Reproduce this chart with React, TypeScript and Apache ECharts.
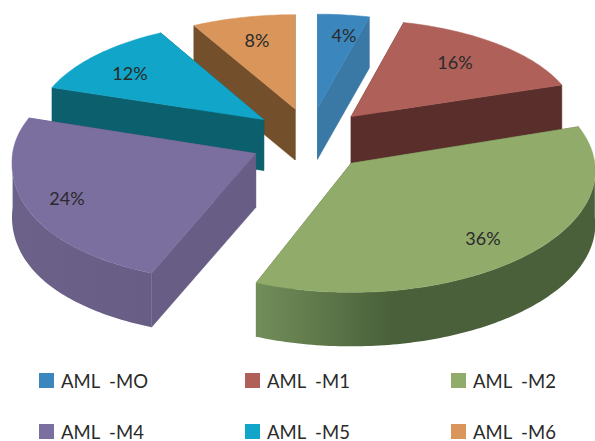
import React, { useEffect, useRef } from "react";
import * as echarts from "echarts";

const categories = ["AML  -MO", "AML  -M1", "AML  -M2", "AML  -M4", "AML  -M5", "AML  -M6"];
const percentages = [4, 16, 36, 24, 12, 8];
const topColors = ["#3b87bd", "#af6159", "#90ab6a", "#7b6fa0", "#10a5c9", "#d9955a"];
const edgeColors = ["#3a79a6", "#5a2e2b", "#5a7343", "#675d85", "#0c5f6c", "#744f2b"];
const arcColorsFrom = ["#3a79a6", "#5a2e2b", "#728e59", "#6b6189", "#0c5f6c", "#744f2b"];
const arcColorsTo = ["#3a79a6", "#5a2e2b", "#49603a", "#675d85", "#0c5f6c", "#744f2b"];
const labelPlaces: [number, number][] = [[344, 35], [455, 62], [483, 238], [67, 198], [130, 73], [257, 40]];
const legendPlaces: [number, number][] = [[39, 371], [245, 371], [451, 371], [39, 422], [245, 422], [451, 422]];

// draw back to front
const paintOrder = [0, 5, 1, 4, 3, 2];

const FONT = "Lato, 'Open Sans', sans-serif";
const RAD = Math.PI / 180;
const total = percentages.reduce((a, b) => a + b, 0);

function geometry(i: number) {
  const before = percentages.slice(0, i).reduce((a, b) => a + b, 0);
  const start = (before / total) * 360;
  const end = ((before + percentages[i]) / total) * 360;
  const mid = ((start + end) / 2) * RAD;
  const apex: [number, number] = [310 + 60 * Math.sin(mid), 140 - 32 * Math.cos(mid)];
  const at = (deg: number): [number, number] => {
    const t = deg * RAD;
    const c = Math.cos(t);
    // the front-left slice is stretched a little more by the reference's perspective
    const stretchX = i === 3 ? 3 + (c < 0 ? 30 * c * c : 0) : 0;
    const stretchY = i === 3 && c < 0 ? 4 * c * c : 0;
    const rx = 235 - 15 * c - 12 * Math.cos(mid) + stretchX;
    const ry = 113 - 8 * c - 11 * Math.cos(mid) + stretchY;
    return [apex[0] + rx * Math.sin(t), apex[1] - ry * c];
  };
  return { start, end, apex, at };
}

function renderSlice(i: number) {
  const { start, end, apex, at } = geometry(i);
  const depth = i === 2 || i === 3 ? 54 : 51;
  const down = (p: [number, number]): [number, number] => [p[0], p[1] + depth];
  const rim: [number, number][] = [];
  const n = Math.max(8, Math.ceil(end - start));
  for (let k = 0; k <= n; k++) rim.push(at(start + ((end - start) * k) / n));

  const children: any[] = [];
  const first = rim[0];
  const last = rim[rim.length - 1];
  for (const corner of [first, last]) {
    children.push({
      type: "polygon",
      shape: { points: [apex, corner, down(corner), down(apex)] },
      style: { fill: edgeColors[i], stroke: edgeColors[i], lineWidth: 0.5 },
      silent: true,
    });
  }
  const a0 = Math.max(start, 90);
  const a1 = Math.min(end, 270);
  if (a1 > a0) {
    const band: [number, number][] = [];
    const m = Math.ceil(a1 - a0);
    for (let k = 0; k <= m; k++) band.push(at(a0 + ((a1 - a0) * k) / m));
    const points = band.concat(band.slice().reverse().map(down));
    const flip = i === 2;
    children.push({
      type: "polygon",
      shape: { points },
      style: {
        fill: {
          type: "linear",
          x: flip ? 1 : 0,
          y: 0,
          x2: flip ? 0 : 1,
          y2: 0,
          colorStops: flip
            ? [
                { offset: 0, color: arcColorsTo[i] },
                { offset: 0.6, color: arcColorsTo[i] },
                { offset: 1, color: arcColorsFrom[i] },
              ]
            : [
                { offset: 0, color: arcColorsFrom[i] },
                { offset: 1, color: arcColorsTo[i] },
              ],
        },
      },
      silent: true,
    });
  }
  children.push({
    type: "polygon",
    shape: { points: [apex as [number, number]].concat(rim) },
    style: { fill: topColors[i], stroke: topColors[i], lineWidth: 0.5 },
    silent: true,
  });
  children.push({
    type: "text",
    x: labelPlaces[i][0],
    y: labelPlaces[i][1],
    style: {
      text: `${percentages[i]}%`,
      font: `18px ${FONT}`,
      fill: "#2a2a2a",
      align: "center",
      verticalAlign: "middle",
    },
    silent: true,
  });
  return { type: "group", children };
}

export default function App() {
  const ref = useRef<HTMLDivElement | null>(null);
  useEffect(() => {
    if (!ref.current) return;
    const chart = echarts.init(ref.current, undefined, { renderer: "svg" });
    chart.setOption({
      animation: false,
      backgroundColor: "#ffffff",
      tooltip: { show: false },
      legend: categories.map((name, i) => ({
        data: [name],
        left: legendPlaces[i][0],
        top: legendPlaces[i][1],
        padding: 0,
        icon: "rect",
        itemWidth: 15,
        itemHeight: 15,
        itemGap: 0,
        selectedMode: false,
        textStyle: { fontFamily: FONT, fontSize: 18.5, lineHeight: 17, color: "#2a2a2a", padding: [0, 0, 0, 2] },
      })),
      series: paintOrder.map((i) => ({
        type: "custom",
        name: categories[i],
        coordinateSystem: "none",
        silent: true,
        itemStyle: { color: topColors[i] },
        data: [percentages[i]],
        renderItem: () => renderSlice(i),
      })),
    });
    return () => chart.dispose();
  }, []);
  return <div ref={ref} style={{ position: "absolute", left: 0, top: 0, width: 595, height: 441 }} />;
}
